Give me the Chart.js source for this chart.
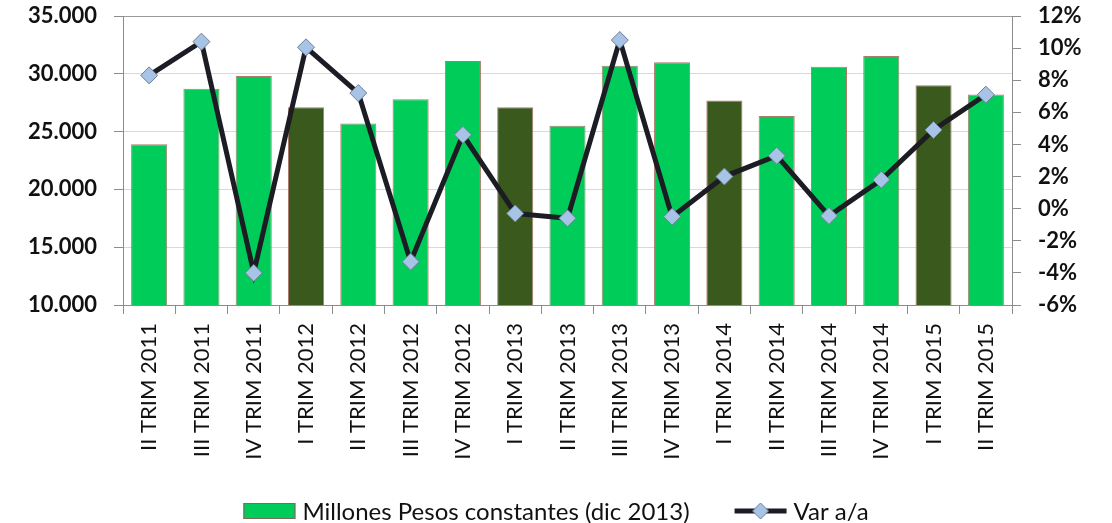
<!DOCTYPE html>
<html>
<head>
<meta charset="utf-8">
<script src="https://cdn.jsdelivr.net/npm/chart.js@4.4.1/dist/chart.umd.min.js"></script>
<style>
  html, body { margin: 0; padding: 0; background: #fff; }
  #wrap { width: 1112px; height: 523px; position: relative; }
</style>
</head>
<body>
<div id="wrap"><canvas id="c"></canvas></div>
<script>
// categories (quarters)
const labels = [
  'II TRIM 2011', 'III TRIM 2011', 'IV TRIM 2011',
  'I TRIM 2012', 'II TRIM 2012', 'III TRIM 2012', 'IV TRIM 2012',
  'I TRIM 2013', 'II TRIM 2013', 'III TRIM 2013', 'IV TRIM 2013',
  'I TRIM 2014', 'II TRIM 2014', 'III TRIM 2014', 'IV TRIM 2014',
  'I TRIM 2015', 'II TRIM 2015'
];

// Millones Pesos constantes (dic 2013)
const millones = [
  23900, 28700, 29800, 27100, 25700, 27800, 31100,
  27100, 25500, 30700, 31000, 27700, 26350, 30600,
  31550, 29000, 28200
];

// Var a/a (%)
const varAA = [
  8.3, 10.4, -4.0, 10.05, 7.2, -3.3, 4.6,
  -0.3, -0.6, 10.5, -0.5, 2.0, 3.3, -0.45,
  1.8, 4.9, 7.1
];

const GREEN = '#00cc5a';
const DARK_GREEN = '#3a591d';
const FONT = 'Lato, "Open Sans", sans-serif';

// first quarters get the dark bar
const barColors = labels.map(l => l.startsWith('I TRIM') ? DARK_GREEN : GREEN);

// fixed axis sizes so the plot area sits where the original has it
const LEFT_W = 123, RIGHT_W = 100, X_H = 218;

// legend drawn under the axis labels (line legend needs line + diamond)
const bottomLegend = {
  id: 'bottomLegend',
  afterDraw(chart) {
    const ctx = chart.ctx;
    const t1 = 'Millones Pesos constantes (dic 2013)';
    const t2 = 'Var a/a';
    ctx.save();
    ctx.font = '24px ' + FONT;
    const w1 = ctx.measureText(t1).width;
    const w2 = ctx.measureText(t2).width;
    const boxW = 52, gap = 7, between = 45;
    const total = boxW + gap + w1 + between + boxW + gap + w2;
    let x = (chart.width - total) / 2;
    const yc = 511;
    ctx.fillStyle = GREEN;
    ctx.fillRect(x, yc - 8, boxW, 16);
    ctx.strokeStyle = '#7a6a60';
    ctx.lineWidth = 1;
    ctx.strokeRect(x + 0.5, yc - 7.5, boxW - 1, 15);
    x += boxW + gap;
    ctx.fillStyle = '#111';
    ctx.textBaseline = 'middle';
    ctx.fillText(t1, x, yc + 1);
    x += w1 + between;
    ctx.strokeStyle = '#1c1c24';
    ctx.lineWidth = 5;
    ctx.beginPath();
    ctx.moveTo(x, yc);
    ctx.lineTo(x + boxW, yc);
    ctx.stroke();
    const cx = x + boxW / 2;
    ctx.beginPath();
    ctx.moveTo(cx, yc - 8);
    ctx.lineTo(cx + 8, yc);
    ctx.lineTo(cx, yc + 8);
    ctx.lineTo(cx - 8, yc);
    ctx.closePath();
    ctx.fillStyle = '#a7c3e6';
    ctx.fill();
    ctx.strokeStyle = '#6d7f96';
    ctx.lineWidth = 1;
    ctx.stroke();
    x += boxW + gap;
    ctx.fillStyle = '#111';
    ctx.fillText(t2, x, yc + 1);
    ctx.restore();
  }
};

new Chart(document.getElementById('c'), {
  type: 'bar',
  plugins: [bottomLegend],
  data: {
    labels: labels,
    datasets: [
      {
        type: 'line',
        label: 'Var a/a',
        data: varAA,
        yAxisID: 'y1',
        borderColor: '#1c1c24',
        borderWidth: 5,
        pointStyle: 'rectRot',
        pointRadius: 8.5,
        pointBackgroundColor: '#a7c3e6',
        pointBorderColor: '#6d7f96',
        pointBorderWidth: 1,
        tension: 0,
        order: 0
      },
      {
        label: 'Millones Pesos constantes (dic 2013)',
        data: millones,
        yAxisID: 'y',
        backgroundColor: barColors,
        borderColor: 'rgba(150,90,70,0.8)',
        borderWidth: 1,
        barPercentage: 0.69,
        categoryPercentage: 1,
        order: 1
      }
    ]
  },
  options: {
    animation: false,
    responsive: true,
    maintainAspectRatio: false,
    layout: { padding: { top: 16, left: 0, right: 0, bottom: 0 } },
    scales: {
      x: {
        offset: true,
        afterFit: s => { s.height = X_H; },
        grid: {
          offset: true,
          drawOnChartArea: false,
          tickLength: 9,
          tickColor: '#8c8c8c'
        },
        border: { color: '#8c8c8c' },
        ticks: {
          color: '#111',
          font: { family: FONT, size: 22 },
          minRotation: 90,
          maxRotation: 90,
          autoSkip: false,
          padding: 9
        }
      },
      y: {
        position: 'left',
        min: 10000,
        max: 35000,
        afterFit: s => { s.width = LEFT_W; s.paddingTop = 0; s.paddingBottom = 0; },
        grid: {
          color: ctx => (ctx.tick && ctx.tick.value === 35000) ? '#9a9a9a' : '#d9d9d9',
          tickLength: 9,
          tickColor: '#8c8c8c'
        },
        border: { color: '#8c8c8c' },
        ticks: {
          stepSize: 5000,
          color: '#111',
          padding: 17,
          font: { family: FONT, size: 22, weight: 'bold' },
          callback: v => v.toLocaleString('de-DE')
        }
      },
      y1: {
        position: 'right',
        min: -6,
        max: 12,
        afterFit: s => { s.width = RIGHT_W; s.paddingTop = 0; s.paddingBottom = 0; },
        grid: {
          drawOnChartArea: false,
          tickLength: 9,
          tickColor: '#8c8c8c'
        },
        border: { color: '#8c8c8c' },
        ticks: {
          stepSize: 2,
          color: '#111',
          padding: 17,
          font: { family: FONT, size: 22, weight: 'bold' },
          callback: v => v + '%'
        }
      }
    },
    plugins: {
      legend: { display: false },
      tooltip: { enabled: false }
    }
  }
});
</script>
</body>
</html>
